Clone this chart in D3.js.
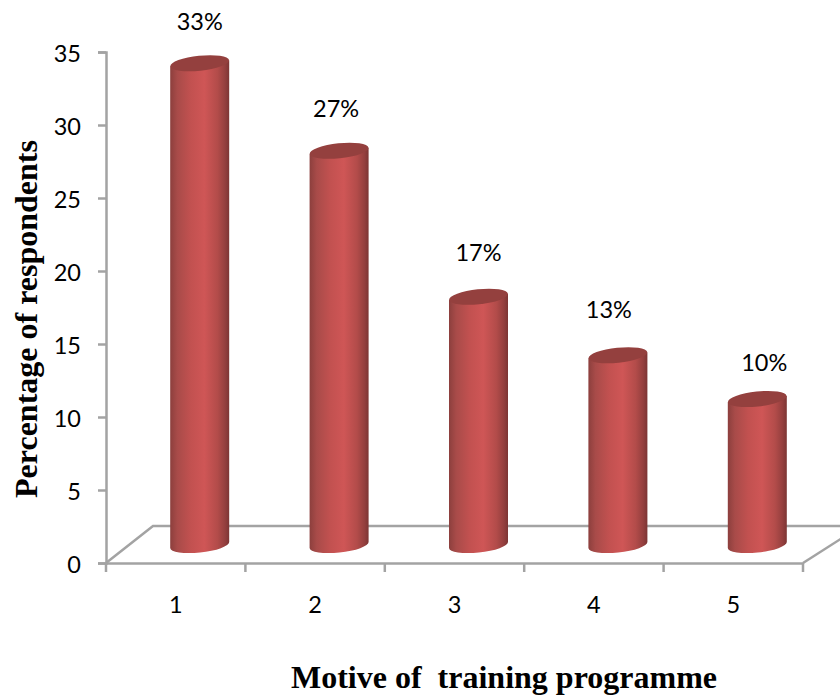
<!DOCTYPE html>
<html>
<head>
<meta charset="utf-8">
<script src="https://cdn.jsdelivr.net/npm/d3@7"></script>
<style>
    html, body { margin: 0; padding: 0; background: #fff; }
    svg { display: block; }
</style>
</head>
<body>
<div id="chart"></div>
<script>
const motives = [1, 2, 3, 4, 5];
const respondents = [33, 27, 17, 13, 10];
const valueLabels = ["33%", "27%", "17%", "13%", "10%"];
const yTicks = [0, 5, 10, 15, 20, 25, 30, 35];

const width = 840;
const height = 696;
const axisColor = "#a3a3a3";
const labelFont = "Lato, 'Open Sans', sans-serif";
const titleFont = "'Liberation Serif', serif";

// floor depth of the 3-D box
const depthX = 47;
const depthY = 37;
const barWidth = 59;
const rx = barWidth / 2;
const ry = 7.5;
const tilt = 3;

// hand placement of the value labels relative to each bar top
const labelDx = [0, -3, 0, -9, 7];
const labelDy = [-33, -34, -36, -37, -28];

const svg = d3
    .select("#chart")
    .append("svg")
    .attr("width", width)
    .attr("height", height);

const x = d3.scaleBand().domain(motives).range([106, 803]);
const y = d3.scaleLinear().domain([0, 35]).range([563, 52]);

// Cylinder shading, left to right
const defs = svg.append("defs");
const gradient = defs
    .append("linearGradient")
    .attr("id", "cylinder")
    .attr("x1", "0%")
    .attr("y1", "0%")
    .attr("x2", "100%")
    .attr("y2", "0%");

[
    [0, "#8c3f3d"],
    [0.12, "#a84b49"],
    [0.35, "#c25150"],
    [0.58, "#cf5656"],
    [0.8, "#b34c4a"],
    [0.93, "#943f3e"],
    [1, "#7c3534"],
].forEach(([offset, color]) => {
    gradient.append("stop").attr("offset", offset).attr("stop-color", color);
});

// Floor of the plot
const floor = svg
    .append("g")
    .attr("fill", "none")
    .attr("stroke", axisColor)
    .attr("stroke-width", 2.5);

floor
    .append("path")
    .attr(
        "d",
        `M${x.range()[0]},${y(0)}L${x.range()[0] + depthX},${y(0) - depthY}L${width},${y(0) - depthY}`
    );
floor
    .append("path")
    .attr("d", `M${x.range()[1]},${y(0)}L${x.range()[1] + depthX},${y(0) - depthY + 7}`);

// Y axis
const yAxis = svg
    .append("g")
    .attr("transform", `translate(${x.range()[0]},0)`)
    .call(d3.axisLeft(y).tickValues(yTicks).tickSize(8).tickPadding(17));

yAxis.selectAll("text").attr("dy", "0.4em");

// X axis, ticks sit between the categories
const xAxis = svg
    .append("g")
    .attr("transform", `translate(0,${y(0)})`)
    .call(d3.axisBottom(x).tickSize(0).tickPadding(33));

xAxis
    .selectAll(".boundary")
    .data(motives.map((d) => x(d)).concat(x.range()[1]))
    .join("line")
    .attr("class", "boundary")
    .attr("x1", (d) => d)
    .attr("x2", (d) => d)
    .attr("y1", 0)
    .attr("y2", 9);

[yAxis, xAxis].forEach((axis) => {
    axis.selectAll("path, line").attr("stroke", axisColor).attr("stroke-width", 2.5);
    axis
        .selectAll("text")
        .attr("fill", "#000")
        .style("font-family", labelFont)
        .style("font-size", "23.5px");
});

// Bars stand in the middle of the floor depth
const barCenter = (d) => x(d) + x.bandwidth() / 2 + depthX / 2 + 0.5;
const baseY = y(0) - 18;
const topY = (v) => y(v) - 18;

const bars = svg
    .selectAll(".bar")
    .data(motives)
    .join("g")
    .attr("class", "bar");

bars
    .append("path")
    .attr("fill", "url(#cylinder)")
    .attr("d", (d, i) => {
        const left = barCenter(d) - rx;
        const right = barCenter(d) + rx;
        const top = topY(respondents[i]);
        return (
            `M${left},${top + tilt}L${left},${baseY + tilt}` +
            `A${rx},${ry} -6 0 0 ${right},${baseY - tilt}` +
            `L${right},${top - tilt}Z`
        );
    });

bars
    .append("ellipse")
    .attr("fill", "#94403e")
    .attr("rx", rx)
    .attr("ry", ry)
    .attr(
        "transform",
        (d, i) => `translate(${barCenter(d)},${topY(respondents[i])}) rotate(-6)`
    );

// Value labels
bars
    .append("text")
    .attr("x", (d, i) => barCenter(d) + labelDx[i])
    .attr("y", (d, i) => topY(respondents[i]) + labelDy[i])
    .attr("text-anchor", "middle")
    .style("font-family", labelFont)
    .style("font-size", "23.5px")
    .text((d, i) => valueLabels[i]);

// Axis titles
svg
    .append("text")
    .attr("transform", "translate(37,319) rotate(-90)")
    .attr("text-anchor", "middle")
    .style("font-family", titleFont)
    .style("font-size", "32px")
    .style("font-weight", "bold")
    .text("Percentage of respondents");

svg
    .append("text")
    .attr("x", 504)
    .attr("y", 688)
    .attr("text-anchor", "middle")
    .style("white-space", "pre")
    .style("font-family", titleFont)
    .style("font-size", "32px")
    .style("font-weight", "bold")
    .text("Motive of  training programme");
</script>
</body>
</html>
